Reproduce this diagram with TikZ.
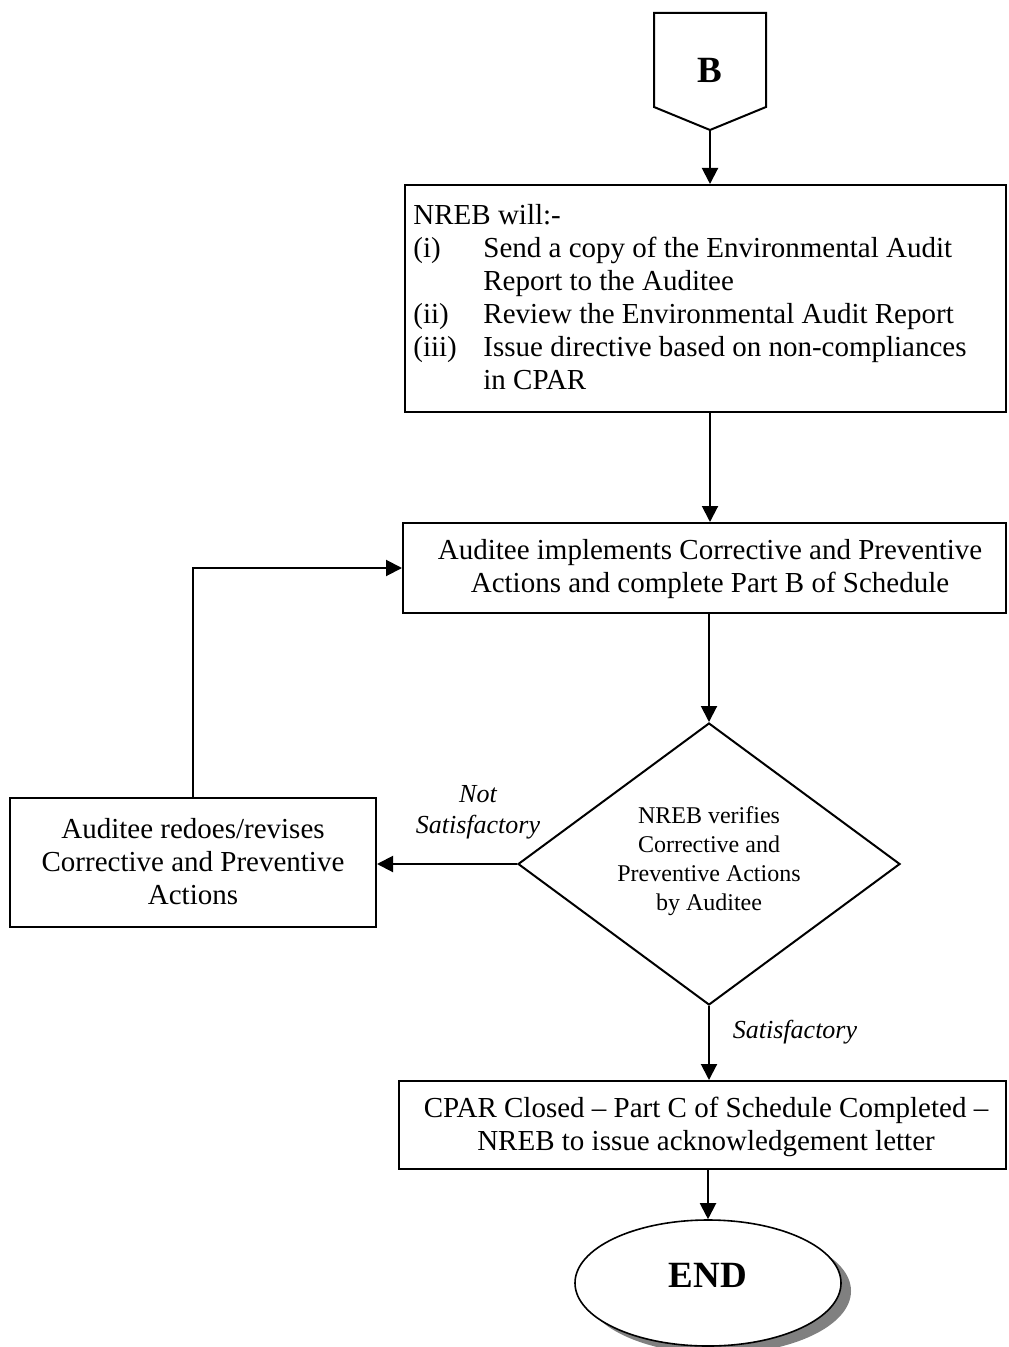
\documentclass[tikz,border=0pt]{standalone}
\usepackage{fontspec}
\setmainfont{Liberation Serif}
\usetikzlibrary{arrows.meta,shapes.geometric,shadows}
\begin{document}
\begin{tikzpicture}[x=0.5pt,y=-0.5pt,
  box/.style={draw, line width=1pt, rectangle, inner sep=0pt},
  txt/.style={font=\fontsize{14.5pt}{16.5pt}\selectfont, align=center, inner sep=0pt},
  dtxt/.style={font=\fontsize{12pt}{14.5pt}\selectfont, align=center, inner sep=0pt},
  arr/.style={line width=1pt, -{Triangle[length=8pt,width=8pt]}},
  lbl/.style={font=\fontsize{13pt}{15.5pt}\selectfont\itshape, align=center, inner sep=0pt},
  big/.style={font=\fontsize{18.5pt}{22pt}\selectfont\bfseries, inner sep=0pt}]
\useasboundingbox (0,0) rectangle (1008,1347);
\coordinate (axis) at (710,0);
% off-page connector B
\draw[line width=1pt] (654,13) -- (766,13) -- (766,107) -- (710,130) -- (654,107) -- cycle;
\coordinate (bpt) at (710,130);
\node[big] (blab) at (710,70) {B};
% box 1
\node[box, minimum width=300.5pt, minimum height=113.5pt] (b1) at (705.5,298.5) {};
\node[anchor=west, inner sep=0pt, font=\fontsize{14.5pt}{16.5pt}\selectfont] (b1t) at (413,300)
{\begin{tabular}{@{}p{35pt}@{}l@{}}
\multicolumn{2}{@{}l@{}}{NREB will:-}\\
(i) & Send a copy of the Environmental Audit\\
 & Report to the Auditee\\
(ii) & Review the Environmental Audit Report\\
(iii) & Issue directive based on non-compliances\\
 & in CPAR
\end{tabular}};
% box 2
\node[box, minimum width=301.5pt, minimum height=45pt] (b2) at (704.5,568) {};
\node[txt] (b2t) at (710,569) {Auditee implements Corrective and Preventive\\Actions and complete Part B of Schedule};
% diamond
\node[draw, line width=1pt, diamond, inner sep=0pt, minimum width=191pt, minimum height=141pt] (dia) at (709,864) {};
\node[dtxt] (diat) at (709,861) {NREB verifies\\Corrective and\\Preventive Actions\\by Auditee};
% left box
\node[box, minimum width=183pt, minimum height=64.5pt] (lb) at (193,862.5) {};
\node[txt] (lbt) at (193,862) {Auditee redoes/revises\\Corrective and Preventive\\Actions};
% box 3
\node[box, minimum width=303.5pt, minimum height=44pt] (b3) at (702.5,1125) {};
\node[txt] (b3t) at (706,1127) {CPAR Closed -- Part C of Schedule Completed --\\NREB to issue acknowledgement letter};
% end
\node[draw, line width=0.8pt, ellipse, fill=white, inner sep=0pt, minimum width=133pt, minimum height=63pt,
  drop shadow={shadow xshift=5pt, shadow yshift=-4pt, fill=black!50, opacity=1}] (endn) at (708,1283) {};
\node[big] (endt) at (708,1275) {END};
% labels
\node[lbl] (ns) at (478,812) {Not\\Satisfactory};
\node[lbl] (sat) at (795,1032) {Satisfactory};
% connectors
\draw[arr] (bpt) -- (bpt |- b1.north);
\draw[arr] (b1.south -| axis) -- (b2.north -| axis);
\draw[arr] (b2.south -| dia.north) -- (dia.north);
\draw[arr] (dia.west) -- (dia.west -| lb.east);
\draw[arr] (lb.north) |- (b2.west);
\draw[arr] (dia.south) -- (b3.north -| dia.south);
\draw[arr] (b3.south -| endn.north) -- (endn.north);
\end{tikzpicture}
\end{document}
